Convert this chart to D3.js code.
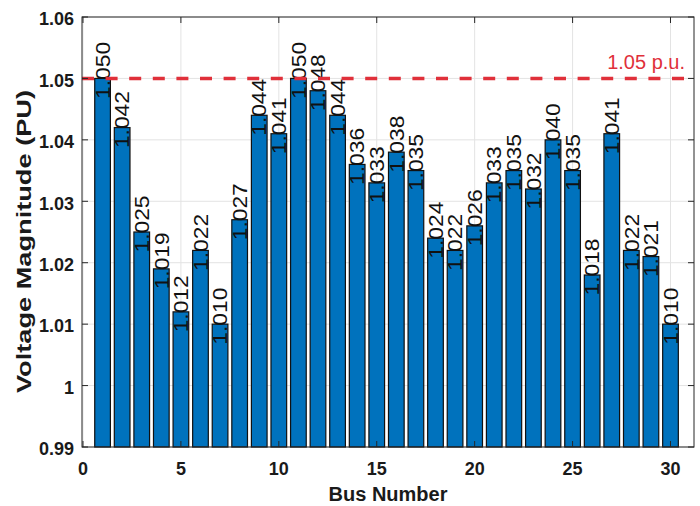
<!DOCTYPE html>
<html>
<head>
<meta charset="utf-8">
<script src="https://cdn.jsdelivr.net/npm/d3@7"></script>
<style>
  html, body { margin: 0; padding: 0; background: #fff; }
  svg { display: block; font-family: "Liberation Sans", Arial, sans-serif; }
</style>
</head>
<body>
<svg id="chart" width="700" height="506"></svg>
<script>
// ---- data ----
const busNumbers = [1,2,3,4,5,6,7,8,9,10,11,12,13,14,15,16,17,18,19,20,21,22,23,24,25,26,27,28,29,30];
const voltages = [1.050,1.042,1.025,1.019,1.012,1.022,1.010,1.027,1.044,1.041,
                  1.050,1.048,1.044,1.036,1.033,1.038,1.035,1.024,1.022,1.026,
                  1.033,1.035,1.032,1.040,1.035,1.018,1.041,1.022,1.021,1.010];
const yTicks = [0.99,1.00,1.01,1.02,1.03,1.04,1.05,1.06];
const yTickLabels = ["0.99","1","1.01","1.02","1.03","1.04","1.05","1.06"];
const xTicks = [0,5,10,15,20,25,30];
const limitValue = 1.05;
const limitLabel = "1.05 p.u.";
const xLabel = "Bus Number";
const yLabel = "Voltage Magnitude (PU)";

// ---- layout ----
const L = 82, R = 694, T = 17, B = 447;
const svg = d3.select("#chart");
const x = d3.scaleLinear().domain([-0.05, 31.2]).range([L, R]);
const y = d3.scaleLinear().domain([0.99, 1.06]).range([B, T]);
const axisColor = "#262626";
const gridColor = "#e3e3e3";
const barColor = "#0072BD";
const red = "#e0303a";

// background
svg.append("rect").attr("x", L).attr("y", T).attr("width", R - L).attr("height", B - T).attr("fill", "#fff");

// grid
const grid = svg.append("g");
grid.selectAll(".gy").data(yTicks).join("line")
  .attr("x1", L).attr("x2", R).attr("y1", d => y(d)).attr("y2", d => y(d))
  .attr("stroke", gridColor).attr("stroke-width", 1);
grid.selectAll(".gx").data(xTicks).join("line")
  .attr("x1", d => x(d)).attr("x2", d => x(d)).attr("y1", T).attr("y2", B)
  .attr("stroke", gridColor).attr("stroke-width", 1);

// bars
const bw = 0.8;
svg.append("g").selectAll("rect").data(busNumbers).join("rect")
  .attr("x", d => x(d - bw / 2))
  .attr("width", d => x(d + bw / 2) - x(d - bw / 2))
  .attr("y", (d, i) => y(voltages[i]))
  .attr("height", (d, i) => y(0.99) - y(voltages[i]))
  .attr("fill", barColor)
  .attr("stroke", "#111").attr("stroke-width", 1.2);

// value labels (rotated)
const fmt = d3.format(".3f");
svg.append("g").selectAll("text").data(busNumbers).join("text")
  .attr("transform", (d, i) => `translate(${x(d)},${y(voltages[i]) + 20.5}) rotate(-90)`)
  .attr("dy", "0.36em")
  .attr("font-size", 20)
  .attr("textLength", 57)
  .attr("lengthAdjust", "spacingAndGlyphs")
  .attr("fill", "#111")
  .text((d, i) => fmt(voltages[i]));

// limit line
svg.append("line")
  .attr("x1", x(-0.05)).attr("x2", x(31))
  .attr("y1", y(limitValue)).attr("y2", y(limitValue))
  .attr("stroke", red).attr("stroke-width", 3.5)
  .attr("stroke-dasharray", "12,11.6");
svg.append("text")
  .attr("x", 685).attr("y", 68.5)
  .attr("text-anchor", "end")
  .attr("font-size", 20)
  .attr("fill", red)
  .text(limitLabel);

// axes box
svg.append("rect").attr("x", L).attr("y", T).attr("width", R - L).attr("height", B - T)
  .attr("fill", "none").attr("stroke", axisColor).attr("stroke-width", 1);

// ticks (inward)
const tl = 6;
const tk = svg.append("g").attr("stroke", axisColor).attr("stroke-width", 1);
yTicks.forEach(v => {
  tk.append("line").attr("x1", L).attr("x2", L + tl).attr("y1", y(v)).attr("y2", y(v));
  tk.append("line").attr("x1", R).attr("x2", R - tl).attr("y1", y(v)).attr("y2", y(v));
});
xTicks.forEach(v => {
  tk.append("line").attr("x1", x(v)).attr("x2", x(v)).attr("y1", B).attr("y2", B - tl);
  tk.append("line").attr("x1", x(v)).attr("x2", x(v)).attr("y1", T).attr("y2", T + tl);
});

// tick labels
svg.append("g").selectAll("text").data(yTicks).join("text")
  .attr("x", 74).attr("y", d => y(d) + 2)
  .attr("dy", "0.35em")
  .attr("text-anchor", "end")
  .attr("font-size", 18).attr("font-weight", "bold").attr("fill", "#1a1a1a")
  .text((d, i) => yTickLabels[i]);
svg.append("g").selectAll("text").data(xTicks).join("text")
  .attr("x", d => x(d)).attr("y", 474.5)
  .attr("text-anchor", "middle")
  .attr("font-size", 18).attr("font-weight", "bold").attr("fill", "#1a1a1a")
  .text(d => d);

// axis titles
svg.append("text")
  .attr("x", 388).attr("y", 501)
  .attr("text-anchor", "middle")
  .attr("font-size", 20).attr("font-weight", "bold").attr("fill", "#1a1a1a")
  .text(xLabel);
svg.append("text")
  .attr("transform", `translate(31,241.5) rotate(-90)`)
  .attr("text-anchor", "middle")
  .attr("font-size", 21).attr("font-weight", "bold").attr("fill", "#1a1a1a")
  .attr("textLength", 303).attr("lengthAdjust", "spacingAndGlyphs")
  .text(yLabel);
</script>
</body>
</html>
